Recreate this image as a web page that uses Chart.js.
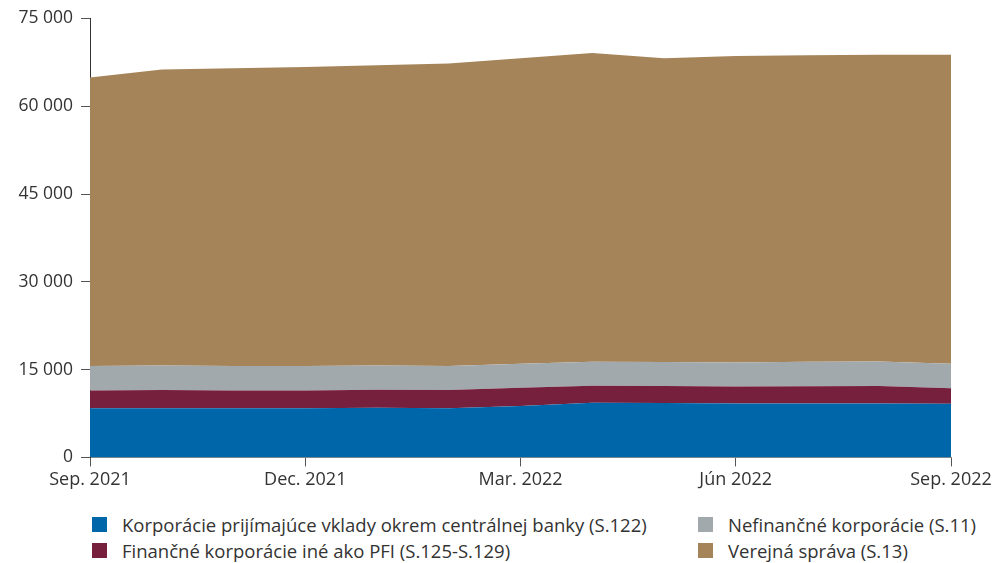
<!DOCTYPE html>
<html>
<head>
<meta charset="utf-8">
<script src="https://cdn.jsdelivr.net/npm/chart.js@4.4.0/dist/chart.umd.min.js"></script>
<style>
  html, body { margin: 0; padding: 0; background: #fff; }
  body { width: 997px; height: 563px; position: relative; overflow: hidden; font-family: "Open Sans", sans-serif; color: #333; }
  #wrap { position: absolute; left: 0; top: 0; width: 997px; height: 500px; }
  .leg { position: absolute; font-size: 18.5px; line-height: 22px; white-space: nowrap; }
  .leg span { position: absolute; left: 0; top: 3px; width: 15px; height: 15px; }
  .leg div { position: absolute; left: 30px; top: 0; }
</style>
</head>
<body>
<div id="wrap"><canvas id="myChart" width="997" height="500"></canvas></div>
<div id="legend"></div>
<script>
var months = ['Sep. 2021', 'Okt. 2021', 'Nov. 2021', 'Dec. 2021', 'Jan. 2022', 'Feb. 2022', 'Mar. 2022',
	'Apr. 2022', 'Máj 2022', 'Jún 2022', 'Júl 2022', 'Aug. 2022', 'Sep. 2022'];
var names = ['Korporácie prijímajúce vklady okrem centrálnej banky (S.122)',
	'Finančné korporácie iné ako PFI (S.125-S.129)',
	'Nefinančné korporácie (S.11)',
	'Verejná správa (S.13)'];
var colors = ['#0066aa', '#76203e', '#a2a9ac', '#a6845a'];

// values in mil. EUR
var s122 = [8400, 8400, 8400, 8400, 8500, 8400, 8800, 9350, 9300, 9200, 9200, 9200, 9150];
var s125 = [3050, 3100, 3050, 3050, 3050, 3100, 3100, 2900, 2900, 2900, 2950, 3000, 2650];
var s11 = [4150, 4200, 4150, 4150, 4150, 4100, 4100, 4100, 4100, 4100, 4200, 4200, 4200];
var s13 = [49300, 50600, 50900, 51100, 51300, 51700, 52200, 52750, 51900, 52400, 52350, 52400, 52800];
var yTicks = [0, 15000, 30000, 45000, 60000, 75000];

var series = [s122, s125, s11, s13];
var datasets = [];
for (var i = 0; i < series.length; i++) {
	datasets.push({
		label: names[i],
		data: series[i],
		backgroundColor: colors[i],
		borderWidth: 0,
		pointRadius: 0,
		fill: i === 0 ? 'origin' : '-1',
		tension: 0
	});
}

var legendPos = [[92, 514], [92, 540], [698, 514], [698, 540]];
var legendHtml = '';
for (var j = 0; j < names.length; j++) {
	legendHtml += '<div class="leg" style="left:' + legendPos[j][0] + 'px;top:' + legendPos[j][1] + 'px">' +
		'<span style="background:' + colors[j] + '"></span><div>' + names[j] + '</div></div>';
}
document.getElementById('legend').innerHTML = legendHtml;

var ctx = document.getElementById('myChart').getContext('2d');
var myChart = new Chart(ctx, {
	type: 'line',
	data: { labels: months, datasets: datasets },
	options: {
		responsive: false,
		animation: false,
		layout: { padding: { top: 18, right: 46, bottom: 6, left: 0 } },
		plugins: { legend: { display: false }, tooltip: { enabled: false } },
		scales: {
			x: {
				offset: false,
				border: { color: '#8c8c8c', width: 1 },
				grid: {
					drawOnChartArea: false,
					tickLength: 9,
					color: function(c) { return c.index % 3 === 0 ? '#555' : 'rgba(0,0,0,0)'; }
				},
				ticks: {
					autoSkip: false,
					maxRotation: 0,
					padding: 3,
					color: '#333',
					font: { family: '"Open Sans", sans-serif', size: 18 },
					callback: function(v, idx) { return idx % 3 === 0 ? months[idx] : ''; }
				}
			},
			y: {
				stacked: true,
				min: 0,
				max: 75000,
				afterFit: function(scale) { scale.width = 90; },
				afterBuildTicks: function(scale) { scale.ticks = yTicks.map(function(v) { return { value: v }; }); },
				border: { color: '#333', width: 1 },
				grid: { drawOnChartArea: false, tickLength: 9, color: '#555' },
				ticks: {
					padding: 8,
					color: '#333',
					font: { family: '"Open Sans", sans-serif', size: 17.5 },
					callback: function(v) { return String(v).replace(/\B(?=(\d{3})+(?!\d))/g, ' '); }
				}
			}
		}
	}
});
</script>
</body>
</html>
